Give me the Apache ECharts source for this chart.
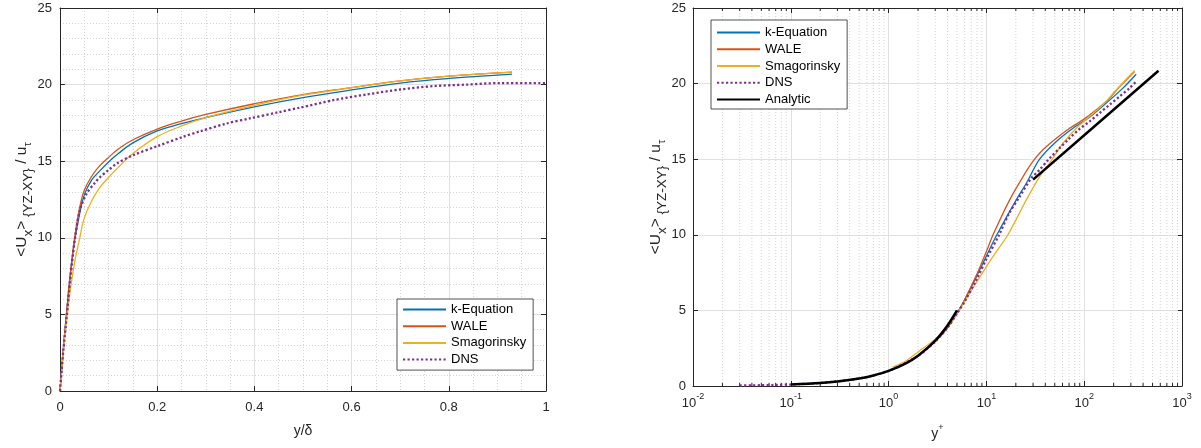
<!DOCTYPE html>
<html>
<head>
<meta charset="utf-8">
<script src="https://cdn.jsdelivr.net/npm/echarts@6/dist/echarts.min.js"></script>
<style>html,body{margin:0;padding:0;background:#fff}#c{width:1201px;height:448px}</style>
</head>
<body>
<div id="c"></div>
<script>
// ---------- Data ----------
// Left panel: y/delta vs <Ux>/u_tau
const xL_les = [0, 0.003, 0.006, 0.01, 0.015, 0.02, 0.025, 0.03, 0.04, 0.05, 0.065, 0.08, 0.1, 0.12, 0.15, 0.2, 0.25, 0.3, 0.4, 0.5, 0.6, 0.7, 0.8, 0.93];
const kEqL  = [0, 1.2, 2.4, 3.9, 5.6, 7.2, 8.6, 9.8, 11.5, 12.8, 13.76, 14.3, 14.95, 15.5, 16.2, 16.98, 17.45, 17.85, 18.55, 19.15, 19.65, 20.1, 20.4, 20.68];
const waleL = [0, 1.2, 2.4, 3.9, 5.6, 7.3, 8.7, 10.0, 11.9, 13.1, 14.0, 14.65, 15.25, 15.8, 16.4, 17.1, 17.62, 18.05, 18.75, 19.35, 19.8, 20.24, 20.55, 20.81];
const smagL = [0, 1.1, 2.2, 3.6, 5.0, 6.3, 7.4, 8.4, 9.9, 11.3, 12.4, 13.2, 13.95, 14.6, 15.5, 16.6, 17.3, 17.85, 18.65, 19.31, 19.8, 20.24, 20.55, 20.81];
const xL_dns = [0, 0.003, 0.007, 0.0137, 0.0206, 0.031, 0.041, 0.055, 0.072, 0.082, 0.099, 0.117, 0.151, 0.2, 0.254, 0.288, 0.343, 0.39, 0.45, 0.494, 0.562, 0.63, 0.70, 0.768, 0.837, 0.905, 1.0];
const dnsL  = [0, 1.2, 2.7, 4.8, 7.2, 10.0, 11.8, 12.9, 13.6, 13.95, 14.4, 14.85, 15.4, 15.98, 16.6, 16.95, 17.46, 17.79, 18.2, 18.5, 18.98, 19.35, 19.68, 19.9, 20.0, 20.1, 20.1];

// Right panel: y+ (log) vs <Ux>/u_tau
const kEqR_x = [1.1, 1.5, 2, 3, 4, 5, 6, 8, 10, 12.8, 20.2, 25.6, 35, 51.9, 76.7, 113.5, 168, 249, 340];
const kEqR_y = [1.1, 1.5, 2.0, 2.95, 3.85, 4.8, 5.7, 7.3, 8.6, 10.0, 12.31, 13.41, 15.0, 16.17, 17.05, 17.78, 18.71, 19.7, 20.62];
const waleR_x = [1.1, 1.5, 2, 3, 4, 5, 6, 8, 10, 11.7, 17.3, 23.7, 29.9, 37.8, 51.9, 71, 97, 133, 182, 230, 280, 327];
const waleR_y = [1.1, 1.5, 2.0, 2.95, 3.85, 4.8, 5.7, 7.4, 8.9, 10.0, 12.31, 13.85, 14.85, 15.62, 16.39, 17.05, 17.6, 18.27, 19.04, 19.8, 20.35, 20.8];
const smagR_x = [1.1, 1.5, 2, 3, 4, 5, 6, 8, 10, 13, 16.6, 25.6, 35, 44.3, 60.7, 83, 113.5, 155, 213, 327];
const smagR_y = [1.25, 1.65, 2.25, 3.1, 3.9, 4.75, 5.6, 6.9, 7.9, 9.0, 10.0, 12.31, 13.85, 14.74, 16.06, 17.05, 17.82, 18.6, 19.59, 20.87];
const dnsR_x = [0.03, 0.04, 0.05, 0.07, 0.1, 0.2, 0.5, 1, 2, 3, 4, 5, 6, 8, 10, 13.5, 17, 21.9, 28.8, 35, 44.2, 56, 70.8, 89.8, 113, 143.6, 181.7, 230, 291, 340];
const dnsR_y = [0.03, 0.04, 0.05, 0.07, 0.1, 0.2, 0.5, 1.0, 2.0, 2.95, 3.85, 4.8, 5.6, 7.1, 8.4, 10.0, 11.4, 12.53, 13.75, 14.3, 15.05, 15.73, 16.39, 17.0, 17.49, 18.05, 18.6, 19.15, 19.7, 20.14];
const anaVisc_x = [0.1, 0.2, 0.3, 0.5, 0.7, 1, 1.5, 2, 3, 4, 5];
const anaVisc_y = [0.1, 0.2, 0.3, 0.5, 0.7, 1, 1.5, 2, 3, 4, 5];
const anaLog_x = [30, 100, 300, 575];
const anaLog_y = [13.65, 16.58, 19.26, 20.85];

const seriesNames = ['k-Equation', 'WALE', 'Smagorinsky', 'DNS', 'Analytic'];

// ---------- Styling ----------
const C = {kEq:'#0072BD', wale:'#D95319', smag:'#EDB120', dns:'#7E2F8E', ana:'#000000'};
const AX = '#262626';
const FONT = 'Liberation Sans, Arial, Helvetica, sans-serif';
const GRID_MAJOR = '#e0e0e0';
const GRID_MINOR = '#d4d4d4';

function pairs(xs, ys){ return xs.map((x,i)=>[x, ys[i]]); }

// minor positions for the log axis (2..9 per decade)
const logMinor = [];
for (let e = -2; e < 3; e++) for (let k = 2; k <= 9; k++) logMinor.push([k*Math.pow(10,e), 0]);

const yName = '{m|<U}x{m|>} {YZ-XY}{m| / u}{t|τ}';
const yNameStyle = {
  color: AX, fontFamily: FONT, fontSize: 13.5, lineHeight: 26,
  rich: {
    m: {fontSize: 15.5, lineHeight: 15, verticalAlign: 'top', color: AX, fontFamily: FONT},
    t: {fontSize: 11, lineHeight: 28, color: AX, fontFamily: FONT}
  }
};

function valueAxisBase(extra){
  return Object.assign({
    axisLine:{show:true, onZero:false, lineStyle:{color:AX, width:1}},
    axisTick:{show:true, inside:true, length:5, lineStyle:{color:AX}},
    axisLabel:{color:AX, fontSize:13, fontFamily:FONT},
    nameMoveOverlap:false
  }, extra);
}

const legendCommon = {
  orient:'vertical', itemWidth:43, itemHeight:14,
  borderColor:AX, borderWidth:0.8, backgroundColor:'#fff',
  itemStyle:{opacity:0, borderWidth:0},
  textStyle:{color:'#000', fontSize:13, fontFamily:FONT}, selectedMode:false
};

const option = {
  animation:false,
  backgroundColor:'#ffffff',
  grid:[
    {left:60, top:8, width:486, height:383, containLabel:false},
    {left:693, top:8, width:489, height:378, containLabel:false}
  ],
  xAxis:[
    valueAxisBase({gridIndex:0, type:'value', min:0, max:1, interval:0.2, position:'bottom',
      axisLabel:{color:AX, fontSize:13, fontFamily:FONT, margin:10},
      splitLine:{show:true, lineStyle:{color:GRID_MAJOR, width:1}},
      minorTick:{show:false, splitNumber:4},
      minorSplitLine:{show:true, lineStyle:{color:GRID_MINOR, width:1, type:[1,2]}},
      name:'y/δ', nameLocation:'middle', nameGap:33,
      nameTextStyle:{color:AX, fontSize:14, fontFamily:FONT}}),
    valueAxisBase({gridIndex:0, type:'value', min:0, max:1, interval:0.2, position:'top',
      axisLabel:{show:false}, splitLine:{show:false}}),
    valueAxisBase({gridIndex:1, type:'log', logBase:10, min:0.01, max:1000, position:'bottom',
      axisLabel:{color:AX, fontFamily:FONT, margin:6,
        formatter:function(v){ const e = Math.round(Math.log10(v)); return '{b|10}{e|' + e + '}'; },
        rich:{ b:{fontSize:13, lineHeight:22, color:AX, fontFamily:FONT},
               e:{fontSize:9, lineHeight:12, verticalAlign:'top', color:AX, fontFamily:FONT} } },
      splitLine:{show:true, lineStyle:{color:GRID_MAJOR, width:1}},
      name:'{m|y}{p|+}', nameLocation:'middle', nameGap:37,
      nameTextStyle:{color:AX, fontFamily:FONT, rich:{
        m:{fontSize:14, lineHeight:22, color:AX, fontFamily:FONT},
        p:{fontSize:9, lineHeight:12, verticalAlign:'top', color:AX, fontFamily:FONT}}}}),
    valueAxisBase({gridIndex:1, type:'log', logBase:10, min:0.01, max:1000, position:'top',
      axisLabel:{show:false}, splitLine:{show:false}})
  ],
  yAxis:[
    valueAxisBase({gridIndex:0, type:'value', min:0, max:25, interval:5, position:'left',
      axisLabel:{color:AX, fontSize:13, fontFamily:FONT, margin:8},
      splitLine:{show:true, lineStyle:{color:GRID_MAJOR, width:1}},
      minorTick:{show:false, splitNumber:5},
      minorSplitLine:{show:true, lineStyle:{color:GRID_MINOR, width:1, type:[1,2]}},
      name:yName, nameLocation:'middle', nameGap:18, nameRotate:90, nameTextStyle:yNameStyle}),
    valueAxisBase({gridIndex:0, type:'value', min:0, max:25, interval:5, position:'right',
      axisLabel:{show:false}, splitLine:{show:false}}),
    valueAxisBase({gridIndex:1, type:'value', min:0, max:25, interval:5, position:'left',
      axisLabel:{color:AX, fontSize:13, fontFamily:FONT, margin:7},
      splitLine:{show:true, lineStyle:{color:GRID_MAJOR, width:1}},
      name:yName, nameLocation:'middle', nameGap:17, nameRotate:90, nameTextStyle:yNameStyle}),
    valueAxisBase({gridIndex:1, type:'value', min:0, max:25, interval:5, position:'right',
      axisLabel:{show:false}, splitLine:{show:false}})
  ],
  legend:[
    Object.assign({data:seriesNames.slice(0,4), left:397, top:299, itemGap:3.7, padding:[4,7,4,5]}, legendCommon),
    Object.assign({data:seriesNames, left:711, top:20, itemGap:3.75, padding:[6,7,3,5]}, legendCommon)
  ],
  series:[
    // right-panel minor log grid + minor ticks
    {type:'custom', xAxisIndex:2, yAxisIndex:2, silent:true, z:1, data:logMinor,
     clip:false,
     renderItem:function(params, api){
       const v = api.value(0);
       const b = api.coord([v, 0]);
       const t = api.coord([v, 25]);
       return {type:'group', children:[
         {type:'line', shape:{x1:b[0], y1:b[1], x2:t[0], y2:t[1]}, style:{stroke:GRID_MINOR, lineWidth:1, lineDash:[1,2]}},
         {type:'line', shape:{x1:b[0], y1:b[1], x2:b[0], y2:b[1]-3}, style:{stroke:AX, lineWidth:1}},
         {type:'line', shape:{x1:t[0], y1:t[1], x2:t[0], y2:t[1]+3}, style:{stroke:AX, lineWidth:1}}
       ]};
     }},
    // left panel
    {name:'k-Equation', type:'line', xAxisIndex:0, yAxisIndex:0, data:pairs(xL_les,kEqL), symbol:'none', smooth:0.4,
     lineStyle:{color:C.kEq, width:1.3}, itemStyle:{color:C.kEq}},
    {name:'WALE', type:'line', xAxisIndex:0, yAxisIndex:0, data:pairs(xL_les,waleL), symbol:'none', smooth:0.4,
     lineStyle:{color:C.wale, width:1.3}, itemStyle:{color:C.wale}},
    {name:'Smagorinsky', type:'line', xAxisIndex:0, yAxisIndex:0, data:pairs(xL_les,smagL), symbol:'none', smooth:0.4,
     lineStyle:{color:C.smag, width:1.3}, itemStyle:{color:C.smag}},
    {name:'DNS', type:'line', xAxisIndex:0, yAxisIndex:0, data:pairs(xL_dns,dnsL), symbol:'none', smooth:0.3,
     lineStyle:{color:C.dns, width:2.3, type:[2.2,2.3]}, itemStyle:{color:C.dns}},
    // right panel
    {name:'k-Equation', type:'line', xAxisIndex:2, yAxisIndex:2, data:pairs(kEqR_x,kEqR_y), symbol:'none', smooth:0.3,
     lineStyle:{color:C.kEq, width:1.3}, itemStyle:{color:C.kEq}},
    {name:'WALE', type:'line', xAxisIndex:2, yAxisIndex:2, data:pairs(waleR_x,waleR_y), symbol:'none', smooth:0.3,
     lineStyle:{color:C.wale, width:1.3}, itemStyle:{color:C.wale}},
    {name:'Smagorinsky', type:'line', xAxisIndex:2, yAxisIndex:2, data:pairs(smagR_x,smagR_y), symbol:'none', smooth:0.3,
     lineStyle:{color:C.smag, width:1.3}, itemStyle:{color:C.smag}},
    {name:'DNS', type:'line', xAxisIndex:2, yAxisIndex:2, data:pairs(dnsR_x,dnsR_y), symbol:'none', smooth:0.3,
     lineStyle:{color:C.dns, width:2.3, type:[2.2,2.3]}, itemStyle:{color:C.dns}},
    {name:'Analytic', type:'line', xAxisIndex:2, yAxisIndex:2, data:pairs(anaVisc_x,anaVisc_y), symbol:'none', smooth:0.3,
     lineStyle:{color:C.ana, width:2.5}, itemStyle:{color:C.ana}},
    {name:'Analytic', type:'line', xAxisIndex:2, yAxisIndex:2, data:pairs(anaLog_x,anaLog_y), symbol:'none',
     lineStyle:{color:C.ana, width:2.5}, itemStyle:{color:C.ana}}
  ]
};

const chart = echarts.init(document.getElementById('c'), null, {renderer:'canvas'});
chart.setOption(option);
</script>
</body>
</html>
